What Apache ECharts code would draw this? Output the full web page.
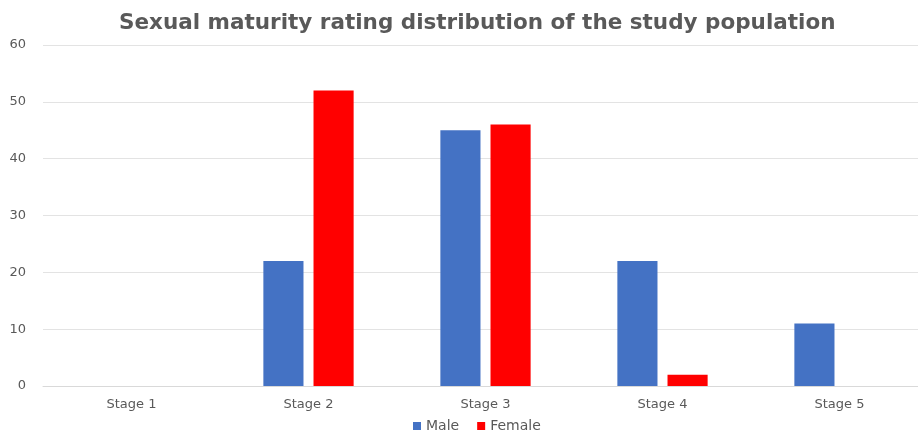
<!DOCTYPE html>
<html>
<head>
<meta charset="utf-8">
<script src="https://cdn.jsdelivr.net/npm/echarts@6/dist/echarts.min.js"></script>
<style>
  html, body { margin: 0; padding: 0; background: #fff; }
  #chart { width: 918px; height: 432px; }
</style>
</head>
<body>
<div id="chart"></div>
<script>
    // values
    var stages = ['Stage 1', 'Stage 2', 'Stage 3', 'Stage 4', 'Stage 5'];
    var maleValues = [0, 22, 45, 22, 11];
    var femaleValues = [0, 52, 46, 2, 0];
    var chartTitle = 'Sexual maturity rating distribution of the study population';

    var myChart = echarts.init(document.getElementById('chart'));
    var option = {
        animation: false,
        textStyle: { fontFamily: 'DejaVu Sans' },
        title: {
            text: chartTitle,
            left: 114,
            top: 7,
            textStyle: { fontSize: 21.5, fontWeight: 'bold', color: '#595959', fontFamily: 'DejaVu Sans' }
        },
        legend: {
            bottom: -6,
            left: 408,
            itemWidth: 8,
            itemHeight: 8,
            itemGap: 18,
            icon: 'rect',
            textStyle: { fontSize: 14, color: '#595959' },
            data: ['Male', 'Female']
        },
        // plot runs past the right edge in the reference, so fix its width
        grid: { left: 43, top: 45, width: 885, height: 341, containLabel: false, outerBoundsMode: 'none' },
        xAxis: {
            type: 'category',
            data: stages,
            axisTick: { show: false },
            axisLine: { lineStyle: { color: '#d9d9d9' } },
            axisLabel: { color: '#595959', fontSize: 13, margin: 12 }
        },
        yAxis: {
            type: 'value',
            min: 0,
            max: 60,
            interval: 10,
            axisLine: { show: false },
            axisTick: { show: false },
            axisLabel: { color: '#595959', fontSize: 13, margin: 17 },
            splitLine: { lineStyle: { color: '#e3e3e3' } }
        },
        series: [
            {
                name: 'Male',
                type: 'bar',
                data: maleValues,
                barGap: '25%',
                barCategoryGap: '49%',
                itemStyle: { color: '#4472C4' }
            },
            {
                name: 'Female',
                type: 'bar',
                data: femaleValues,
                itemStyle: { color: '#FF0000' }
            }
        ]
    };
    myChart.setOption(option);
</script>
</body>
</html>
